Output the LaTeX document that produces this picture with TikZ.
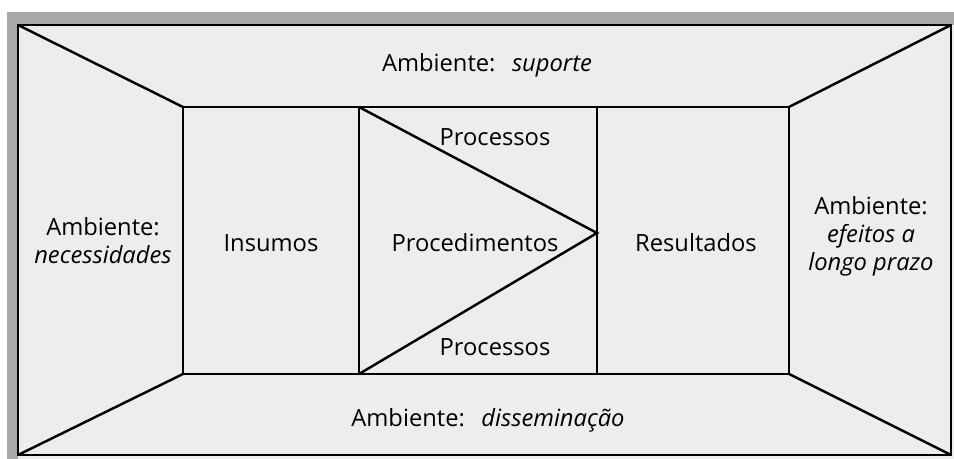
\documentclass[tikz,border=0pt]{standalone}
\usepackage{fontspec}
\setmainfont{Open Sans}
\usetikzlibrary{positioning}
\definecolor{paper}{HTML}{EDEDED}
\definecolor{edge}{HTML}{A9A9A9}
\begin{document}
\begin{tikzpicture}[x=0.02cm,y=-0.02cm,
    rotulo/.style={font=\fontsize{13.5}{16}\selectfont,align=center,inner sep=0pt},
    traco/.style={line width=1.4pt,line join=miter}]
            \useasboundingbox (0,0) rectangle (954,459);
            \fill[edge] (7,12) rectangle (954,459);
            \fill[paper] (18,25) rectangle (954,459);
            % cantos externos e internos
            \coordinate (A) at (18,25);  \coordinate (B) at (951,25);
            \coordinate (C) at (951,455); \coordinate (D) at (18,455);
            \coordinate (a) at (183,107); \coordinate (b) at (789,107);
            \coordinate (c) at (789,374); \coordinate (d) at (183,374);
            \coordinate (p1) at (359,107); \coordinate (p2) at (359,374);
            \coordinate (r1) at (597,107); \coordinate (r2) at (597,374);
            \coordinate (bico) at (597,233);
            \draw[traco] (A) -- (B) -- (C) -- (D) -- cycle;
            \draw[traco] (a) -- (b) -- (c) -- (d) -- cycle;
            \draw[traco] (A) -- (a); \draw[traco] (B) -- (b);
            \draw[traco] (C) -- (c); \draw[traco] (D) -- (d);
            \draw[traco] (p1) -- (p2); \draw[traco] (r1) -- (r2);
            \draw[traco] (p1) -- (bico) -- (p2);
            % textos
            \node[rotulo] (suporte) at (487,65) {Ambiente:\hspace{0.35em} \textit{suporte}};
            \node[rotulo] (dissem) at (488,420) {Ambiente:\hspace{0.35em} \textit{disseminação}};
            \node[rotulo] (necess) at (103,241) {Ambiente:\\\textit{necessidades}};
            \node[rotulo] (efeitos) at (871,236) {Ambiente:\\\textit{efeitos a}\\\textit{longo prazo}};
            \node[rotulo] (insumos) at (271,243) {Insumos};
            \node[rotulo] (proced) at (475,243) {Procedimentos};
            \node[rotulo] (resultados) at (696,243) {Resultados};
            \node[rotulo] (proc1) at (495,137) {Processos};
            \node[rotulo] (proc2) at (495,347) {Processos};
        \end{tikzpicture}
\end{document}
